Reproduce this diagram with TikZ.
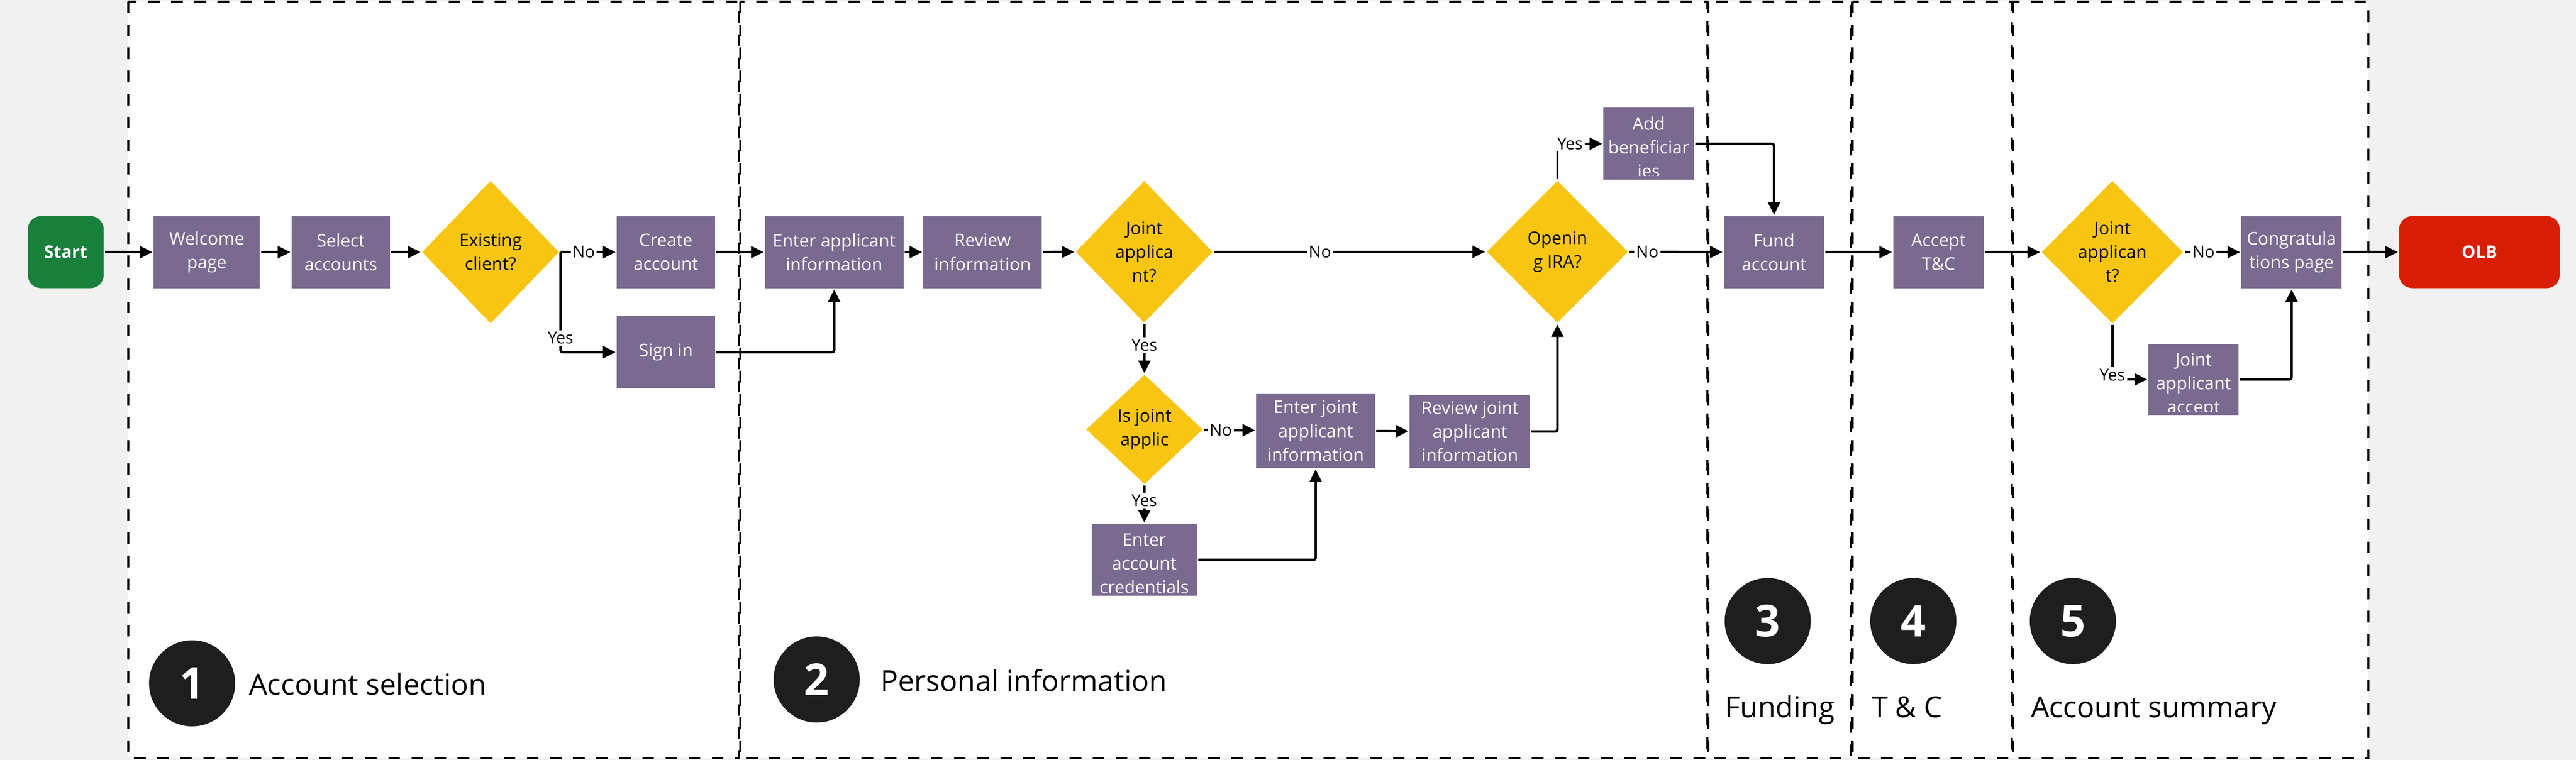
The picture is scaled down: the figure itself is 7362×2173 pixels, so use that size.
\documentclass[tikz,border=0pt]{standalone}
\usepackage{fontspec}
\setmainfont{Open Sans}
\usetikzlibrary{shapes.geometric,arrows.meta}

\definecolor{stepviolet}{HTML}{7A6A90}
\definecolor{askyellow}{HTML}{F8C612}
\definecolor{startgreen}{HTML}{18803B}
\definecolor{endred}{HTML}{D81E05}
\definecolor{badgeblack}{HTML}{1E1E1E}
\definecolor{canvasgrey}{HTML}{F1F1F1}

\newcommand{\boxfont}{\fontsize{14.2}{19.3}\selectfont}

\tikzset{
  stepbox/.style={rectangle, fill=stepviolet, text=white, font=\boxfont, align=center, inner sep=0pt},
  ask/.style={diamond, fill=askyellow, text=black, font=\boxfont, align=center, inner sep=0pt},
  terminal/.style={rectangle, rounded corners=0.38cm, text=white, font=\boxfont\bfseries, minimum height=2.06cm},
  lbl/.style={fill=white, text=black, font=\fontsize{13.4}{16}\selectfont, inner sep=1.5pt},
  lane/.style={line width=0.06cm, dash pattern=on 0.33cm off 0.33cm},
  badge/.style={circle, fill=badgeblack, text=white, minimum size=2.46cm, inner sep=0pt, font=\fontsize{35.8}{40}\selectfont\bfseries},
  lanetitle/.style={anchor=base west, inner sep=0pt, font=\fontsize{23.6}{28}\selectfont},
  overflow/.style={path picture={
      \clip ([yshift=0.1cm]path picture bounding box.south west) rectangle (path picture bounding box.north east);
      \node[anchor=base, text=white, font=\boxfont, align=center, inner sep=0pt]
        at ([yshift=-1.99cm]path picture bounding box.north) {#1};}},
}

\begin{document}
\begin{tikzpicture}[x=0.01cm, y=0.01cm, line width=0.07cm, >={Triangle[length=0.36cm, width=0.34cm]}]

  \useasboundingbox (0,0) rectangle (7362,-2173);
  \fill[canvasgrey] (0,0) rectangle (7362,-2173);
  \fill[white] (367,-4) rectangle (6769,-2167);

  % Lanes
  \foreach \xa/\xb in {367/2112, 2116/4879, 4883/5290, 5294/5749, 5753/6769}
  \draw[lane] (\xa,-4) rectangle (\xb,-2167);

  \foreach \n/\x/\y in {1/549/1954, 2/2334/1943, 3/5052/1776, 4/5468/1776, 5/5924/1776}
  \node[badge] (badge\n) at (\x,-\y) {\n};

  \node[lanetitle] (title1) at (708,-1987) {Account selection};
  \node[lanetitle] (title2) at (2513,-1977) {Personal information};
  \node[lanetitle] (title3) at (4927,-2052) {Funding};
  \node[lanetitle] (title4) at (5346,-2052) {T \& C};
  \node[lanetitle] (title5) at (5801,-2052) {Account summary};

  % Account selection
  \node[terminal, fill=startgreen, minimum width=2.17cm] (start) at (188,-721) {Start};
  \node[stepbox, minimum width=3.03cm, minimum height=2.06cm] (welcome) at (591,-721) {Welcome\\page};
  \node[stepbox, minimum width=2.81cm, minimum height=2.06cm] (select) at (974,-721) {Select\\accounts};
  \node[ask, minimum width=3.93cm, minimum height=4.10cm] (existing) at (1402,-721) {Existing\\client?};
  \node[stepbox, minimum width=2.80cm, minimum height=2.06cm] (create) at (1903,-721) {Create\\account};
  \node[stepbox, minimum width=2.80cm, minimum height=2.07cm] (signin) at (1903,-1007) {Sign in};

  % Personal information
  \node[stepbox, minimum width=3.96cm, minimum height=2.06cm] (enterapp) at (2384,-721) {Enter applicant\\information};
  \node[stepbox, minimum width=3.38cm, minimum height=2.06cm] (review) at (2808,-721) {Review\\information};
  \node[ask, minimum width=3.93cm, minimum height=4.08cm] (joint) at (3270,-720) {Joint\\applica\\nt?};
  \node[ask, minimum width=4.06cm, minimum height=4.08cm] (ira) at (4451,-720) {Openin\\g IRA?};
  \node[stepbox, minimum width=2.59cm, minimum height=2.05cm, overflow={Add\\beneficiar\\ies}] (benef) at (4712,-411) {};
  \node[ask, minimum width=3.35cm, minimum height=3.15cm] (isjoint) at (3271,-1228) {Is joint\\applic};
  \node[stepbox, minimum width=3.39cm, minimum height=2.13cm] (enterjoint) at (3760,-1232) {Enter joint\\applicant\\information};
  \node[stepbox, minimum width=3.44cm, minimum height=2.09cm] (reviewjoint) at (4201,-1234) {Review joint\\applicant\\information};
  \node[stepbox, minimum width=3.01cm, minimum height=2.06cm, overflow={Enter\\account\\credentials}] (creds) at (3270,-1601) {};

  % Funding, T&C, Account summary
  \node[stepbox, minimum width=2.87cm, minimum height=2.06cm] (fund) at (5070,-721) {Fund\\account};
  \node[stepbox, minimum width=2.59cm, minimum height=2.06cm] (accept) at (5540,-721) {Accept\\T\&C};
  \node[ask, minimum width=4.06cm, minimum height=4.10cm] (joint2) at (6037,-721) {Joint\\applican\\t?};
  \node[stepbox, minimum width=2.87cm, minimum height=2.06cm] (congrats) at (6549,-721) {Congratula\\tions page};
  \node[stepbox, minimum width=2.58cm, minimum height=2.04cm, overflow={Joint\\applicant\\accept}] (jaccept) at (6269,-1085) {};
  \node[terminal, fill=endred, minimum width=4.59cm] (olb) at (7086,-721) {OLB};

  % Connect steps
  \foreach \a/\b in {start/welcome, welcome/select, select/existing, create/enterapp, enterapp/review,
                     review/joint, enterjoint/reviewjoint, fund/accept, accept/joint2, congrats/olb}
  \draw[->] (\a) -- (\b);

  \foreach \a/\b/\t/\p in {existing/create/No/0.42, joint/ira/No/0.39, ira/fund/No/0.19, joint/isjoint/Yes/0.43,
                           isjoint/enterjoint/No/0.33, isjoint/creds/Yes/0.4, joint2/congrats/No/0.34}
  \draw[->] (\a) -- node[lbl, pos=\p] {\t} (\b);

  \foreach \a/\b/\s in {signin/enterapp/south, benef/fund/north, reviewjoint/ira/south,
                        creds/enterjoint/south, jaccept/congrats/south}
  \draw[->, rounded corners=0.06cm] (\a.east) -| (\b.\s);

  \draw[->, rounded corners=0.06cm] (existing.east) |- node[lbl, pos=0.43] {Yes} (signin.west);
  \draw[->] (ira.north) |- node[lbl, pos=0.64] {Yes} (benef.west);
  \draw[->] (joint2.south) |- node[lbl, pos=0.46] {Yes} (jaccept.west);

\end{tikzpicture}
\end{document}
